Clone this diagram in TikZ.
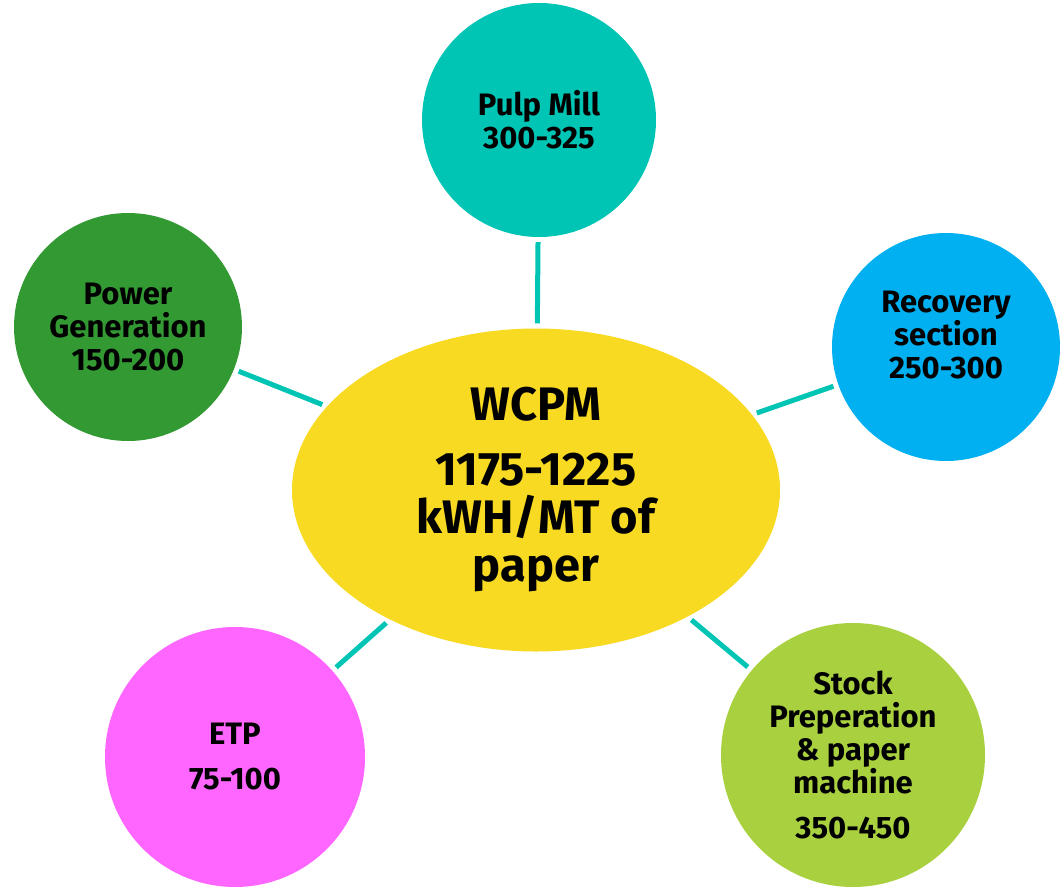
\documentclass[tikz,border=0pt]{standalone}
\usepackage{fontspec}
\setmainfont{Fira Sans}
\usetikzlibrary{shapes.geometric}

\definecolor{pulpteal}{RGB}{0,196,180}
\definecolor{recblue}{RGB}{0,176,240}
\definecolor{powgreen}{RGB}{51,153,51}
\definecolor{etppink}{RGB}{255,102,255}
\definecolor{stocklime}{RGB}{169,208,63}
\definecolor{hubyellow}{RGB}{248,218,34}

\tikzset{
  unit/.style={circle, inner sep=0pt, align=center,
    font=\bfseries\fontsize{31}{33}\selectfont},
  hub/.style={ellipse, inner sep=0pt, align=center, fill=hubyellow,
    minimum width=488pt, minimum height=323pt,
    font=\bfseries\fontsize{47}{48}\selectfont},
  link/.style={pulpteal, line width=5pt, shorten <=5pt, shorten >=5pt}
}

\begin{document}
\begin{tikzpicture}[x=1pt, y=-1pt]
% canvas in pixel units, y running downwards
\useasboundingbox (0,0) rectangle (1060,888);

% --- centre ---
\node[hub] (wcpm) at (536,490) {WCPM\\[17pt]1175-1225\\kWH/MT of\\paper};

% --- sections ---
\node[unit, fill=pulpteal, minimum size=234pt] (pulp) at (539,120)
  {Pulp Mill\\300-325};
\node[unit, fill=recblue, minimum size=228pt, text depth=24pt] (recovery) at (946,347)
  {Recovery\\section\\250-300};
\node[unit, fill=powgreen, minimum size=228pt] (power) at (128,327)
  {Power\\Generation\\150-200};
\node[unit, fill=etppink, minimum size=260pt] (etp) at (235,757)
  {ETP\\[12pt]75-100};
\node[unit, fill=stocklime, minimum size=264pt] (stock) at (853,755)
  {Stock\\Preperation\\\& paper\\machine\\[12pt]350-450};

% --- spokes ---
\foreach \s in {pulp, recovery, power, etp, stock}
  \draw[link] (\s) -- (wcpm);
\end{tikzpicture}
\end{document}
